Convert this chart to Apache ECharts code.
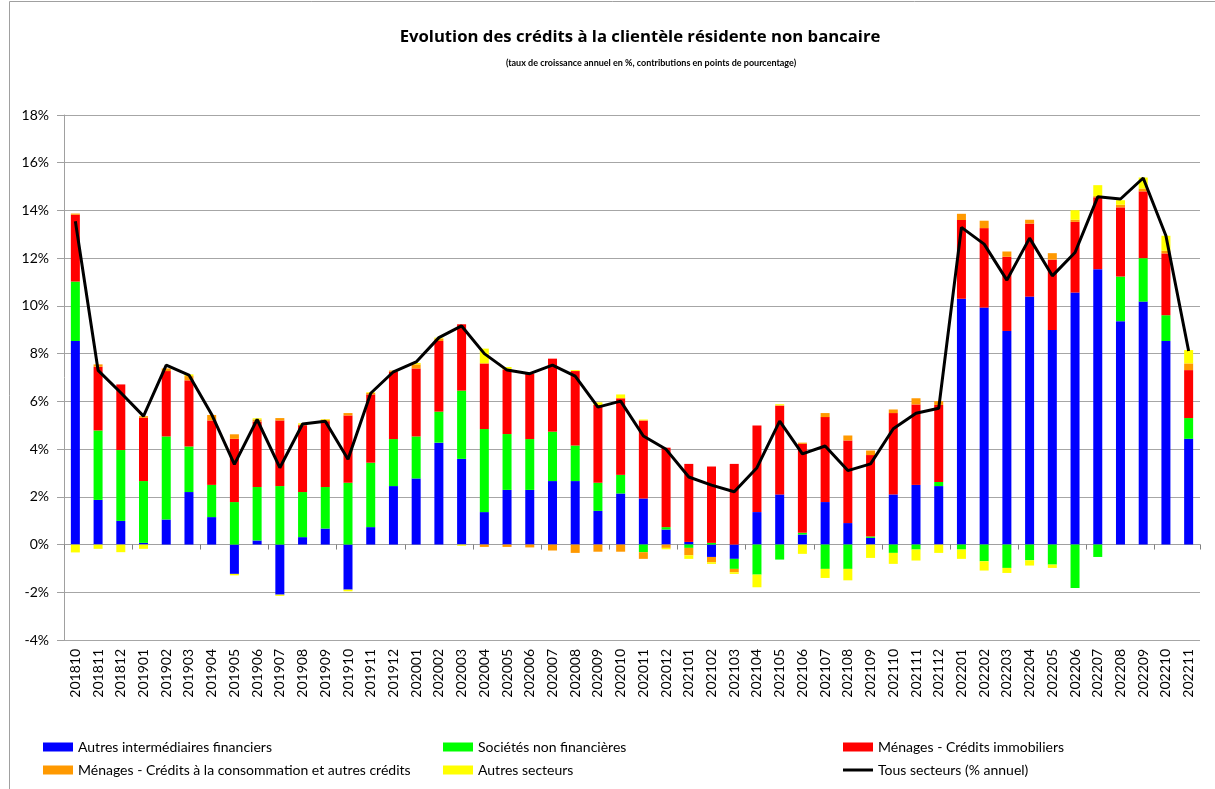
<!DOCTYPE html>
<html>
<head>
<meta charset="utf-8">
<script src="https://cdn.jsdelivr.net/npm/echarts@6/dist/echarts.min.js"></script>
<style>
html,body{margin:0;padding:0;background:#fff;}
#chart{width:1215px;height:789px;}
</style>
</head>
<body>
<div id="chart"></div>
<script>
const categories = ['201810','201811','201812','201901','201902','201903','201904','201905','201906','201907','201908','201909','201910','201911','201912','202001','202002','202003','202004','202005','202006','202007','202008','202009','202010','202011','202012','202101','202102','202103','202104','202105','202106','202107','202108','202109','202110','202111','202112','202201','202202','202203','202204','202205','202206','202207','202208','202209','202210','202211'];

const autresIntermediaires = [8.53,1.87,0.99,0.07,1.05,2.2,1.15,-1.23,0.17,-2.1,0.31,0.67,-1.89,0.73,2.45,2.77,4.27,3.59,1.36,2.29,2.29,2.66,2.66,1.41,2.14,1.93,0.63,0.11,-0.52,-0.6,1.36,2.1,0.42,1.78,0.9,0.28,2.1,2.5,2.45,10.3,9.93,8.95,10.39,8.99,10.56,11.54,9.36,10.18,8.53,4.43];
const societesNonFin = [2.49,2.91,2.97,2.59,3.48,1.91,1.35,1.78,2.24,2.45,1.89,1.74,2.59,2.7,1.97,1.76,1.3,2.86,3.48,2.34,2.13,2.07,1.49,1.18,0.78,-0.32,0.1,-0.14,0.07,-0.42,-1.26,-0.63,0.07,-1.02,-1.02,0.06,-0.35,-0.21,0.17,-0.21,-0.7,-0.98,-0.66,-0.84,-1.82,-0.52,1.87,1.82,1.08,0.87];
const menagesImmo = [2.8,2.67,2.75,2.65,2.74,2.77,2.7,2.65,2.74,2.75,2.8,2.76,2.82,2.86,2.82,2.85,2.96,2.78,2.75,2.71,2.74,3.06,3.12,3.26,3.21,3.27,3.33,3.27,3.2,3.38,3.63,3.72,3.73,3.56,3.46,3.41,3.41,3.37,3.23,3.3,3.33,3.11,3.06,2.95,2.96,3.01,2.9,2.8,2.59,2.01];
const menagesConso = [0.05,0.1,0,0.07,0.11,0.18,0.23,0.19,0.09,0.1,0.03,0.07,0.1,0.06,0.05,0.17,0.1,0,-0.1,-0.1,-0.12,-0.25,-0.35,-0.3,-0.3,-0.28,-0.14,-0.31,-0.22,-0.14,0,0.02,0.05,0.17,0.21,0.19,0.15,0.26,0.16,0.26,0.31,0.22,0.16,0.27,0.09,0.05,0.11,0.12,0.11,0.28];
const autresSecteurs = [-0.33,-0.18,-0.32,-0.18,0,0.07,0,-0.06,0.05,-0.05,0.05,0.02,-0.07,0.03,0,0.06,0.04,-0.05,0.62,0.1,0,0,0.04,0.11,0.16,0.04,-0.06,-0.15,-0.07,-0.07,-0.53,0.04,-0.39,-0.38,-0.48,-0.56,-0.46,-0.46,-0.35,-0.39,-0.39,-0.21,-0.22,-0.14,0.4,0.46,0.19,0.46,0.63,0.56];
const tousSecteurs = [13.55,7.3,6.36,5.38,7.52,7.1,5.45,3.36,5.24,3.22,5.05,5.17,3.57,6.34,7.24,7.65,8.67,9.16,8.0,7.31,7.16,7.52,7.06,5.76,6.01,4.55,3.99,2.83,2.49,2.21,3.22,5.17,3.8,4.13,3.1,3.38,4.85,5.5,5.71,13.29,12.59,11.08,12.84,11.26,12.24,14.57,14.48,15.36,12.94,8.11];

const yTicks = {min: -4, max: 18, interval: 2};

const titleText = 'Evolution des crédits à la clientèle résidente non bancaire';
const subtitleText = '(taux de croissance annuel en %, contributions en points de pourcentage)';
const names = ['Autres intermédiaires financiers','Sociétés non financières','Ménages - Crédits immobiliers','Ménages - Crédits à la consommation et autres crédits','Autres secteurs','Tous secteurs (% annuel)'];
const colors = ['#0000ff','#00ff00','#ff0000','#ff9900','#ffff00','#000000'];
const barData = [autresIntermediaires, societesNonFin, menagesImmo, menagesConso, autresSecteurs];

const FONT = 'Lato';
const chart = echarts.init(document.getElementById('chart'), null, {renderer: 'canvas'});

const legendPos = [[38,735],[438,735],[838,735],[38,758],[438,758],[838,758]];
const legends = names.map((n, i) => ({
  data: [{name: n, icon: 'rect'}],
  left: legendPos[i][0], top: legendPos[i][1],
  itemWidth: 30, itemHeight: i < 5 ? 9 : 3, itemGap: 0,
  textStyle: {fontFamily: FONT, fontSize: 14, color: '#000'},
  selectedMode: false
}));

const series = barData.map((d, i) => ({
  name: names[i], type: 'bar', stack: 'total', data: d,
  barWidth: 9, itemStyle: {color: colors[i]},
  xAxisIndex: 0, yAxisIndex: 0
}));
series.push({
  name: names[5], type: 'line', data: tousSecteurs,
  symbol: 'none', showSymbol: false,
  lineStyle: {color: '#000', width: 3}, itemStyle: {color: '#000'},
  z: 5, xAxisIndex: 0, yAxisIndex: 0
});

chart.setOption({
  animation: false,
  backgroundColor: '#fff',
  legend: legends,
  grid: {left: 64, right: 15, top: 115, bottom: 149, containLabel: false},
  xAxis: [
    {type: 'category', data: categories, position: 'bottom',
     axisLine: {show: false, onZero: false}, axisTick: {show: false},
     axisLabel: {rotate: 90, interval: 0, margin: 9, fontFamily: FONT, fontSize: 14, color: '#000'}},
    {type: 'category', data: categories, position: 'bottom',
     axisLine: {show: true, onZero: true, lineStyle: {color: '#a0a0a0', width: 1}},
     axisTick: {show: true, length: 5, lineStyle: {color: '#808080'}},
     axisLabel: {show: false}, splitLine: {show: false}}
  ],
  yAxis: {type: 'value', min: yTicks.min, max: yTicks.max, interval: yTicks.interval,
    axisLine: {show: true, lineStyle: {color: '#a0a0a0'}},
    axisTick: {show: true, length: 7, lineStyle: {color: '#a0a0a0'}},
    axisLabel: {formatter: '{value}%', margin: 15, fontFamily: FONT, fontSize: 14, color: '#000'},
    splitLine: {show: true, lineStyle: {color: '#a6a6a6', width: 1}}},
  graphic: [
    {type: 'rect', shape: {x: 9.5, y: 1.5, width: 1240, height: 820}, style: {fill: null, stroke: '#a0a0a0', lineWidth: 1}, silent: true},
    {type: 'text', x: 640, y: 37, silent: true,
     style: {text: titleText, textAlign: 'center', textVerticalAlign: 'middle',
             font: 'bold 16.7px "Open Sans"', fill: '#000'}},
    {type: 'text', x: 651, y: 63, silent: true,
     style: {text: subtitleText, textAlign: 'center', textVerticalAlign: 'middle',
             font: 'bold 9px Lato', fill: '#000'}}
  ],
  series: series
});
</script>
</body>
</html>
